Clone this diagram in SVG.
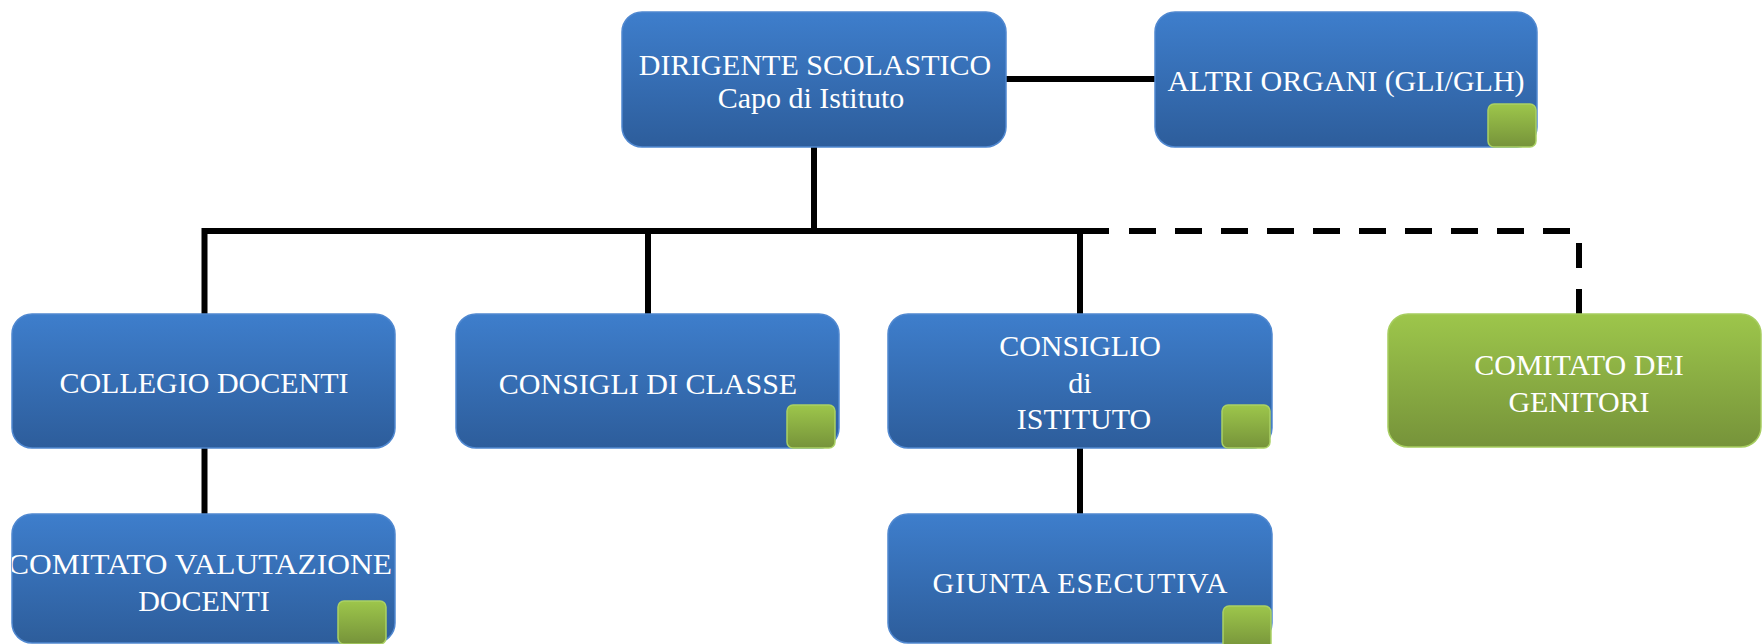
<svg xmlns="http://www.w3.org/2000/svg" width="1762" height="644" viewBox="0 0 1762 644">
<defs>
<linearGradient id="gb" x1="0" y1="0" x2="0" y2="1"><stop offset="0" stop-color="#3E7ECC"/><stop offset="1" stop-color="#2D5D9B"/></linearGradient>
<linearGradient id="gg" x1="0" y1="0" x2="0" y2="1"><stop offset="0" stop-color="#9DC64B"/><stop offset="1" stop-color="#76933A"/></linearGradient>
<clipPath id="c6"><rect x="12" y="514" width="383" height="140" rx="20"/></clipPath>
</defs>
<style>
.box{fill:url(#gb);stroke:#5088D0;stroke-width:1.5}
.gbox{fill:url(#gg);stroke:#A6CD5F;stroke-width:1.5}
.sq{fill:url(#gg);stroke:#AAD164;stroke-width:1.5}
text{font-family:"Liberation Serif","Times New Roman",serif;font-size:30px;fill:#fff;text-anchor:middle}
.ln{stroke:#000;stroke-width:6;fill:none;stroke-linejoin:miter;stroke-linecap:butt}
.dash{stroke-dasharray:27 19}
</style>
<g id="connectors">
<path class="ln" d="M1006 79 H1155"/>
<path class="ln" d="M814 147 V231"/>
<path class="ln" d="M204.5 314 V231 H1109"/>
<path class="ln" d="M648 231 V314"/>
<path class="ln" d="M1080 231 V314"/>
<path class="ln dash" d="M1129 231 H1572"/>
<path class="ln" d="M1579 243 V268 M1579 289 V314"/>
<path class="ln" d="M204.5 448 V514"/>
<path class="ln" d="M1080 448 V514"/>
</g>
<g id="dirigente">
<rect class="box" x="622" y="12" width="384" height="135" rx="20"/>
<text x="815" y="75">DIRIGENTE SCOLASTICO</text>
<text x="811" y="108">Capo di Istituto</text>
</g>
<g id="altri">
<rect class="box" x="1155" y="12" width="382" height="135" rx="20"/>
<text x="1346" y="91">ALTRI ORGANI (GLI/GLH)</text>
<rect class="sq" x="1488" y="104" width="48" height="43" rx="6"/>
</g>
<g id="collegio">
<rect class="box" x="12" y="314" width="383" height="134" rx="20"/>
<text x="204" y="393">COLLEGIO DOCENTI</text>
</g>
<g id="consigli-classe">
<rect class="box" x="456" y="314" width="383" height="134" rx="20"/>
<text x="648" y="394">CONSIGLI DI CLASSE</text>
<rect class="sq" x="787" y="405" width="48" height="43" rx="6"/>
</g>
<g id="consiglio-istituto">
<rect class="box" x="888" y="314" width="384" height="134" rx="20"/>
<text x="1080" y="356">CONSIGLIO</text>
<text x="1080" y="393">di</text>
<text x="1084" y="429">ISTITUTO</text>
<rect class="sq" x="1222" y="405" width="48" height="43" rx="6"/>
</g>
<g id="comitato-genitori">
<rect class="gbox" x="1388" y="314" width="373" height="133" rx="20"/>
<text x="1579" y="375">COMITATO DEI</text>
<text x="1579" y="412">GENITORI</text>
</g>
<g id="comitato-valutazione">
<rect class="box" x="12" y="514" width="383" height="129" rx="20"/>
<g clip-path="url(#c6)">
<text x="200" y="574" textLength="384" lengthAdjust="spacingAndGlyphs">COMITATO VALUTAZIONE</text>
</g>
<text x="204" y="611">DOCENTI</text>
<rect class="sq" x="338" y="601" width="48" height="43" rx="6"/>
</g>
<g id="giunta">
<rect class="box" x="888" y="514" width="384" height="129" rx="20"/>
<text x="1080" y="593" textLength="295" lengthAdjust="spacing">GIUNTA ESECUTIVA</text>
<rect class="sq" x="1223" y="606" width="48" height="43" rx="6"/>
</g>
</svg>
